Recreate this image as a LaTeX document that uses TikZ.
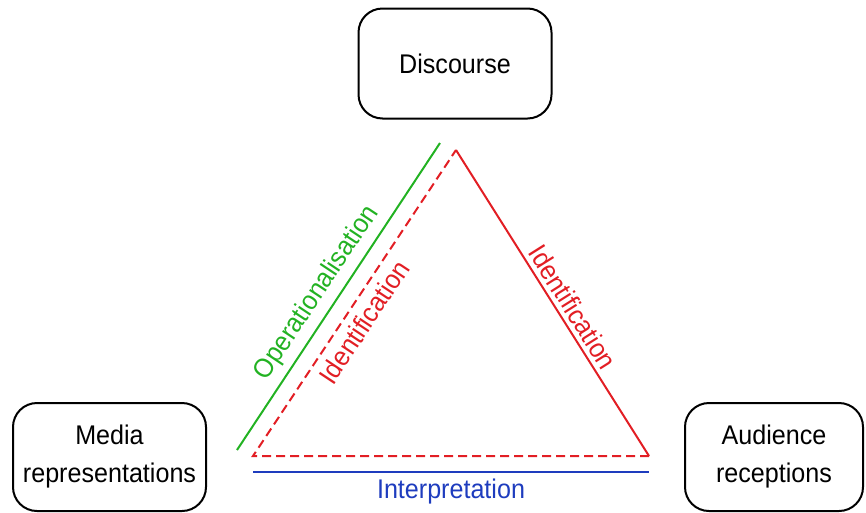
\documentclass[tikz,border=0pt]{standalone}
\usepackage{fontspec}
\usepackage{graphicx}
\setmainfont{Liberation Sans}
\definecolor{lgreen}{RGB}{34,178,34}
\definecolor{lred}{RGB}{226,30,36}
\definecolor{lblue}{RGB}{30,60,190}
\newcommand{\tx}[1]{\scalebox{0.93}[1]{#1}}
\begin{document}
\begin{tikzpicture}[x=1pt,y=-1pt,
  box/.style={draw=black,line width=2pt,rounded corners=24pt,align=center,
    font=\fontsize{27}{38}\selectfont,inner sep=0pt},
  lbl/.style={font=\fontsize{27}{30}\selectfont,inner sep=0pt},
  edge/.style={line width=2pt},
  dashedge/.style={line width=2pt,dash pattern=on 9pt off 5pt}]
\useasboundingbox (0,0) rectangle (866,512);
\node[box,minimum width=193pt,minimum height=110pt] (disc) at (455,63.5) {\tx{Discourse}};
\node[box,minimum width=193pt,minimum height=108pt] (media) at (109.5,457) {\tx{Media}\\\tx{representations}};
\node[box,minimum width=178pt,minimum height=108pt] (aud) at (774,457) {\tx{Audience}\\\tx{receptions}};
\coordinate (top) at (456,150);
\coordinate (bl) at (253,456);
\coordinate (br) at (649,456);
\coordinate (g1) at (237,450);
\coordinate (g2) at (440,143);
\coordinate (b1) at (253,472);
\coordinate (b2) at (649,472);
\draw[edge,lred] (top) -- (br);
\draw[dashedge,lred] (br) -- (bl) -- (top);
\draw[edge,lgreen] (g1) -- (g2);
\draw[edge,lblue] (b1) -- (b2);
\node[lbl,text=lgreen,rotate=56.4] (op) at (317,293) {\tx{Operationalisation}};
\node[lbl,text=lred,rotate=56.4] (idl) at (364,322) {\tx{Identification}};
\node[lbl,text=lred,rotate=-57.8] (idr) at (573,307) {\tx{Identification}};
\node[lbl,text=lblue] (interp) at (451,492) {\tx{Interpretation}};
\end{tikzpicture}
\end{document}
